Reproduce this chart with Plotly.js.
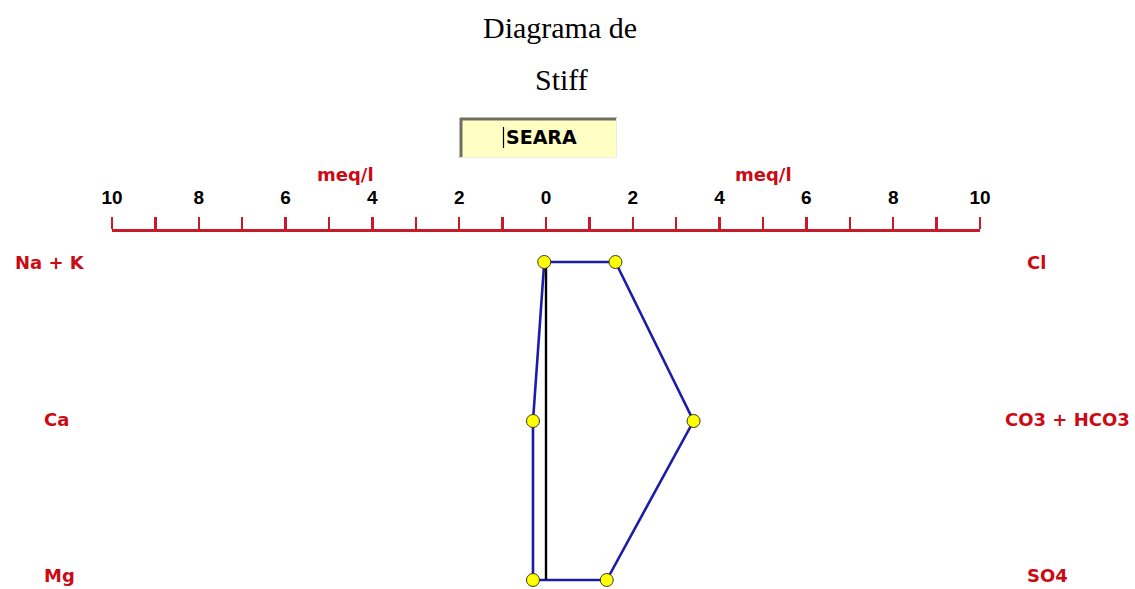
<!DOCTYPE html>
<html>
<head>
<meta charset="utf-8">
<script src="https://cdn.plot.ly/plotly-3.0.1.min.js"></script>
<style>
  html, body { margin: 0; padding: 0; background: #ffffff; }
  #chart { width: 1135px; height: 589px; }
</style>
</head>
<body>
<div id="chart"></div>
<script>
// Stiff diagram: cations plotted to the left, anions to the right (meq/l)
const cations = ['Na + K', 'Ca', 'Mg'];
const anions = ['Cl', 'CO3 + HCO3', 'SO4'];
const cationValues = [0.04, 0.3, 0.3];
const anionValues = [1.6, 3.4, 1.4];
const rows = [0, 1, 2];
const sampleName = 'SEARA';
const unitLabel = 'meq/l';
const tickVals = [-10, -9, -8, -7, -6, -5, -4, -3, -2, -1, 0, 1, 2, 3, 4, 5, 6, 7, 8, 9, 10];
const tickText = ['10', '', '8', '', '6', '', '4', '', '2', '', '0', '', '2', '', '4', '', '6', '', '8', '', '10'];

const W = 1135, H = 589;
const M = { l: 112, r: 155, t: 232, b: 0 };
const plotW = W - M.l - M.r, plotH = H - M.t - M.b;
// pixel -> paper helpers for decorations placed around the plot area
const px = v => (v - M.l) / plotW;
const py = v => (H - M.b - v) / plotH;

const RED = '#cc0a14';
const AXIS_RED = '#c81a2a';
const BLUE = '#1c1ca8';
const labelFont = { family: 'DejaVu Sans', size: 18, color: RED, weight: 'bold' };

// closed polygon: cations top-to-bottom on the left, anions bottom-to-top on the right
const cx = cationValues.map(v => -v);
const polyX = [cx[0], anionValues[0], anionValues[1], anionValues[2], cx[2], cx[1], cx[0]];
const polyY = [rows[0], rows[0], rows[1], rows[2], rows[2], rows[1], rows[0]];

const traces = [
  {
    x: polyX, y: polyY, mode: 'lines', type: 'scatter',
    line: { color: BLUE, width: 2.6 }, hoverinfo: 'skip', cliponaxis: false
  },
  {
    x: [0, 0], y: [rows[0], rows[2]], mode: 'lines', type: 'scatter',
    line: { color: '#000000', width: 2.4 }, hoverinfo: 'skip', cliponaxis: false
  },
  {
    x: cx.concat(anionValues), y: rows.concat(rows), mode: 'markers', type: 'scatter',
    marker: { color: '#ffff00', size: 13, line: { color: '#3a3a20', width: 1 } },
    cliponaxis: false
  }
];

const annotations = [];
// row labels (the last row sits close to the bottom edge, so it is nudged up)
const leftX = [13, 42, 42];
const rightX = [1025, 1003, 1025];
const rowShift = [0, 2, 5];
cations.forEach((c, i) => annotations.push({
  text: c, x: px(leftX[i]), xref: 'paper', y: rows[i], yref: 'y', yshift: rowShift[i],
  xanchor: 'left', yanchor: 'middle', showarrow: false, font: labelFont
}));
anions.forEach((a, i) => annotations.push({
  text: a, x: px(rightX[i]), xref: 'paper', y: rows[i], yref: 'y', yshift: rowShift[i],
  xanchor: 'left', yanchor: 'middle', showarrow: false, font: labelFont
}));
// unit labels above each half of the scale
[345, 763].forEach(p => annotations.push({
  text: unitLabel, x: px(p), xref: 'paper', y: py(175), yref: 'paper',
  xanchor: 'center', yanchor: 'middle', showarrow: false, font: labelFont
}));
// two-line heading
annotations.push({
  text: 'Diagrama de', x: px(560), xref: 'paper', y: py(27), yref: 'paper',
  xanchor: 'center', yanchor: 'middle', showarrow: false,
  font: { family: 'Liberation Serif', size: 30, color: '#000000' }
});
annotations.push({
  text: 'Stiff', x: px(561), xref: 'paper', y: py(80), yref: 'paper',
  xanchor: 'center', yanchor: 'middle', showarrow: false,
  font: { family: 'Liberation Serif', size: 30, color: '#000000' }
});
// sample name in its field
annotations.push({
  text: sampleName, x: px(541), xref: 'paper', y: py(137), yref: 'paper',
  xanchor: 'center', yanchor: 'middle', showarrow: false,
  font: { family: 'DejaVu Sans', size: 19, color: '#000000', weight: 'bold' }
});

const shapes = [
  { type: 'rect', xref: 'paper', yref: 'paper', x0: px(460), x1: px(617), y0: py(158), y1: py(118),
    fillcolor: '#ffffc4', line: { width: 0 }, layer: 'below' },
  { type: 'line', xref: 'paper', yref: 'paper', x0: px(460), x1: px(617), y0: py(119), y1: py(119),
    line: { color: '#6e6e64', width: 3 } },
  { type: 'line', xref: 'paper', yref: 'paper', x0: px(461), x1: px(461), y0: py(118), y1: py(158),
    line: { color: '#6e6e64', width: 3 } },
  { type: 'line', xref: 'paper', yref: 'paper', x0: px(616.5), x1: px(616.5), y0: py(118), y1: py(158),
    line: { color: '#ececdc', width: 1 } },
  { type: 'line', xref: 'paper', yref: 'paper', x0: px(460), x1: px(617), y0: py(157.5), y1: py(157.5),
    line: { color: '#ececdc', width: 1 } },
  // text caret
  { type: 'line', xref: 'paper', yref: 'paper', x0: px(503.5), x1: px(503.5), y0: py(127), y1: py(148),
    line: { color: '#000000', width: 1.2 } }
];

const layout = {
  width: W, height: H,
  margin: M,
  paper_bgcolor: '#ffffff', plot_bgcolor: '#ffffff',
  showlegend: false,
  xaxis: {
    range: [-10, 10], side: 'top', fixedrange: true,
    tickmode: 'array', tickvals: tickVals, ticktext: tickText,
    ticks: 'outside', ticklen: 12, tickwidth: 2.4, tickcolor: AXIS_RED,
    showline: true, linecolor: AXIS_RED, linewidth: 2.6,
    showgrid: false, zeroline: false,
    ticklabelstandoff: 6,
    tickfont: { family: 'Liberation Sans', size: 19, color: '#000000', weight: 'bold' }
  },
  yaxis: {
    range: [2 + 9 / 159, -30 / 159], fixedrange: true,
    showgrid: false, zeroline: false, showline: false, showticklabels: false, ticks: ''
  },
  annotations: annotations,
  shapes: shapes
};

Plotly.newPlot('chart', traces, layout, { staticPlot: true, displayModeBar: false });
</script>
</body>
</html>
